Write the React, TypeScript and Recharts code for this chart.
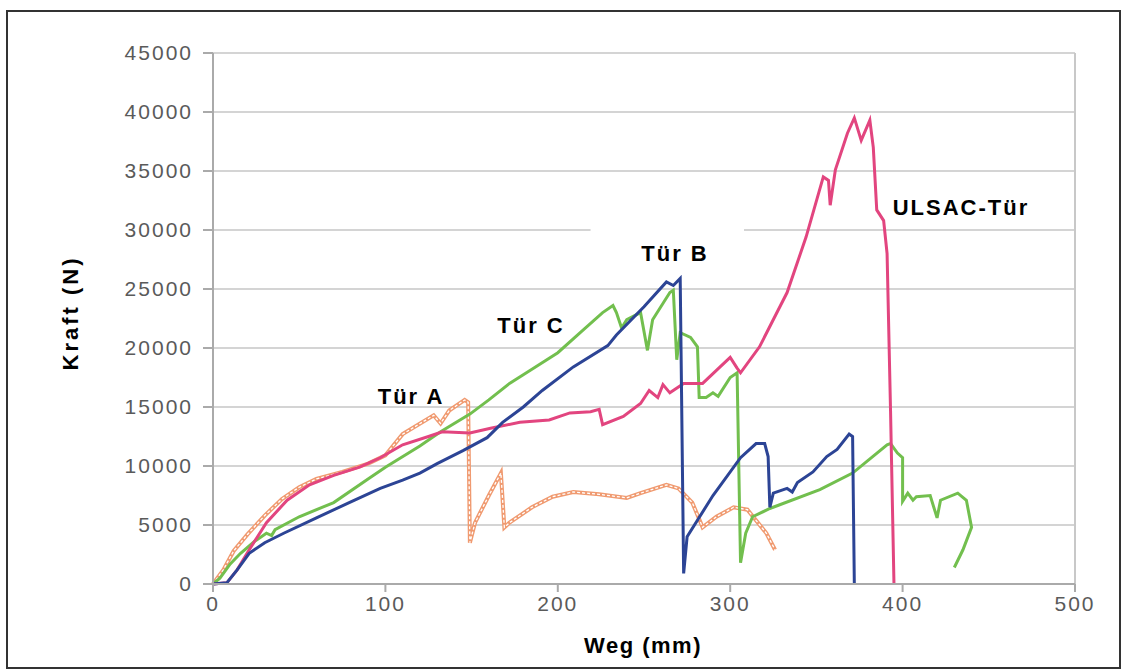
import {
  LineChart,
  Line,
  XAxis,
  YAxis,
  CartesianGrid,
  ReferenceLine,
  ReferenceArea,
} from "recharts";

type Pt = { x: number; y: number };

// Weg (mm), Kraft (N)
const turA: [number, number][] = [
  [0, 0], [6, 1200], [12, 2800], [20, 4200], [30, 5800], [40, 7200], [50, 8200],
  [60, 8900], [75, 9500], [90, 10200], [100, 10900], [110, 12700], [128, 14300],
  [132, 13600], [137, 14700], [146, 15600], [148, 15400], [149, 3500], [152, 5200],
  [160, 7500], [167, 9400], [169, 4800], [172, 5200], [185, 6500], [197, 7400],
  [209, 7800], [224, 7600], [240, 7300], [248, 7700], [263, 8400], [270, 8100],
  [278, 6900], [284, 4800], [292, 5700], [302, 6500], [310, 6300], [321, 4300],
  [326, 2900],
];

const turB: [number, number][] = [
  [0, 0], [8, 100], [14, 1200], [21, 2600], [30, 3500], [41, 4300], [60, 5600],
  [79, 6900], [97, 8100], [110, 8800], [120, 9400], [130, 10200], [145, 11300],
  [159, 12400], [168, 13700], [180, 15000], [191, 16400], [209, 18400], [229, 20200],
  [234, 21100], [250, 23500], [263, 25600], [267, 25300], [271, 25900], [273, 900],
  [275, 4000], [290, 7500], [306, 10700], [315, 11900], [320, 11900], [322, 10800],
  [323, 6500], [325, 7700], [333, 8100], [336, 7800], [339, 8600], [348, 9500],
  [356, 10800], [362, 11400], [369, 12700], [371, 12500], [372, 0],
];

const turC: [number, number][] = [
  [0, 0], [4, 500], [10, 1700], [16, 2600], [24, 3600], [31, 4300], [34, 4100],
  [36, 4600], [50, 5700], [70, 6900], [91, 9000], [100, 9900], [120, 11700],
  [132, 12900], [149, 14400], [160, 15600], [172, 17000], [185, 18200], [200, 19600],
  [213, 21300], [226, 23000], [232, 23600], [234, 23000], [237, 21700], [240, 22400],
  [248, 23000], [252, 19800], [255, 22400], [265, 24700], [267, 24900], [269, 19000],
  [271, 21300], [277, 20900], [281, 20100], [282, 15800], [286, 15800], [290, 16200],
  [293, 15900], [300, 17500], [304, 17900], [306, 1800], [309, 4300], [313, 5700],
  [323, 6400], [352, 8000], [371, 9400], [391, 11800], [393, 11900], [397, 11100],
  [400, 10700], [400, 7000], [403, 7700], [406, 7100], [408, 7400], [416, 7500],
  [420, 5600], [422, 7100], [432, 7700], [437, 7100], [440, 4800], [435, 2900],
  [430, 1400],
];

const ulsac: [number, number][] = [
  [0, 0], [8, 100], [14, 1200], [21, 2900], [31, 5200], [43, 7100], [56, 8400],
  [70, 9200], [85, 9900], [97, 10700], [110, 11800], [125, 12500], [133, 12900],
  [149, 12800], [161, 13200], [178, 13700], [195, 13900], [207, 14500], [219, 14600],
  [224, 14800], [226, 13500], [238, 14200], [248, 15300], [253, 16400], [258, 15800],
  [261, 16900], [265, 16200], [273, 17000], [284, 17000], [292, 18100], [300, 19200],
  [304, 18300], [306, 17900], [317, 20100], [333, 24700], [344, 29400], [354, 34500],
  [357, 34200], [358, 32100], [361, 35100], [368, 38200], [372, 39500], [376, 37600],
  [381, 39300], [383, 37000], [385, 31700], [389, 30800], [391, 28000], [393, 14700],
  [395, 0],
];

const xTicks = [0, 100, 200, 300, 400, 500];
const yTicks = [0, 5000, 10000, 15000, 20000, 25000, 30000, 35000, 40000, 45000];

const toPts = (a: [number, number][]): Pt[] => a.map(([x, y]) => ({ x, y }));

const tickStyle = {
  fill: "#5a5a5a",
  fontSize: 21,
  fontFamily: "Liberation Sans, Arial, sans-serif",
  letterSpacing: 2,
};

const labelStyle = {
  fontFamily: "Liberation Sans, Arial, sans-serif",
  fontWeight: 700,
  fontSize: 22,
  letterSpacing: 2,
  fill: "#000",
};

export default function App() {
  return (
    <div style={{ position: "absolute", left: 0, top: 0, width: 1127, height: 672, background: "#fff" }}>
      <div
        style={{
          position: "absolute",
          left: 6,
          top: 10,
          width: 1115,
          height: 659,
          border: "2px solid #333",
          boxSizing: "border-box",
        }}
      />
      <div style={{ position: "absolute", left: 0, top: 0 }}>
        <LineChart
          width={1127}
          height={672}
          margin={{ top: 53, right: 52, bottom: 58, left: 0 }}
        >
          <CartesianGrid vertical={false} stroke="#d4d4d4" strokeWidth={2} />
          <ReferenceArea
            x1={219}
            x2={308}
            y1={29700}
            y2={30300}
            fill="#fff"
            fillOpacity={1}
            stroke="none"
          />
          <ReferenceLine x={500} stroke="#c8c8c8" strokeWidth={2} />
          <XAxis
            type="number"
            dataKey="x"
            domain={[0, 500]}
            ticks={xTicks}
            height={30}
            stroke="#aaa"
            strokeWidth={2}
            tickSize={8}
            tickMargin={4}
            tick={tickStyle}
          />
          <YAxis
            type="number"
            dataKey="y"
            domain={[0, 45000]}
            ticks={yTicks}
            width={213}
            stroke="#aaa"
            strokeWidth={2}
            tickSize={10}
            tickMargin={10}
            tick={tickStyle}
          />
          <Line data={toPts(turA)} dataKey="y" stroke="#f09a70" strokeWidth={4} dot={false} isAnimationActive={false} />
          <Line data={toPts(turA)} dataKey="y" stroke="#fff" strokeWidth={1.3} strokeDasharray="3 2" dot={false} isAnimationActive={false} />
          <Line data={toPts(turC)} dataKey="y" stroke="#72bf4e" strokeWidth={3} dot={false} isAnimationActive={false} />
          <Line data={toPts(ulsac)} dataKey="y" stroke="#e2457f" strokeWidth={3} dot={false} isAnimationActive={false} />
          <Line data={toPts(turB)} dataKey="y" stroke="#2c4495" strokeWidth={3} dot={false} isAnimationActive={false} />
          <text x={411} y={404} textAnchor="middle" style={labelStyle}>Tür A</text>
          <text x={531} y={333} textAnchor="middle" style={labelStyle}>Tür C</text>
          <text x={675} y={261} textAnchor="middle" style={labelStyle}>Tür B</text>
          <text x={961} y={215} textAnchor="middle" style={labelStyle}>ULSAC-Tür</text>
          <text x={643} y={653} textAnchor="middle" style={{ ...labelStyle, fontSize: 22, letterSpacing: 1.5 }}>Weg (mm)</text>
          <text
            x={0}
            y={0}
            transform="translate(78 313) rotate(-90)"
            textAnchor="middle"
            style={{ ...labelStyle, fontSize: 22, letterSpacing: 3 }}
          >
            Kraft (N)
          </text>
        </LineChart>
      </div>
    </div>
  );
}
